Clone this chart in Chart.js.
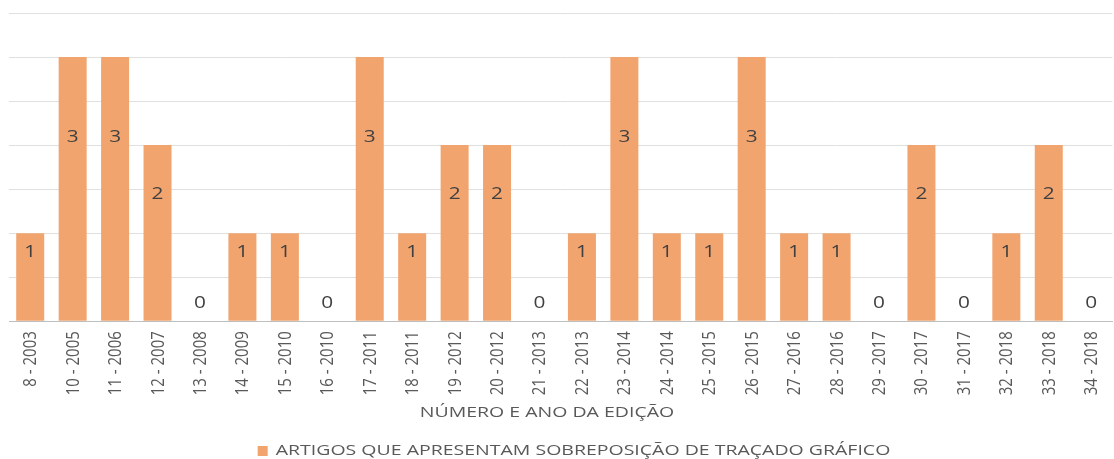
<!DOCTYPE html>
<html><head><meta charset="utf-8">
<script src="https://cdn.jsdelivr.net/npm/chart.js@4"></script>
<style>html,body{margin:0;padding:0;background:#fff}#w{width:1114px;height:459px}</style>
</head><body><div id="w"><canvas id="c"></canvas></div>
<script>
const categories = ["8 - 2003","10 - 2005","11 - 2006","12 - 2007","13 - 2008","14 - 2009","15 - 2010","16 - 2010","17 - 2011","18 - 2011","19 - 2012","20 - 2012","21 - 2013","22 - 2013","23 - 2014","24 - 2014","25 - 2015","26 - 2015","27 - 2016","28 - 2016","29 - 2017","30 - 2017","31 - 2017","32 - 2018","33 - 2018","34 - 2018"];
const values = [1,3,3,2,0,1,1,0,3,1,2,2,0,1,3,1,1,3,1,1,0,2,0,1,2,0];
const seriesName = "ARTIGOS QUE APRESENTAM SOBREPOSIÇÃO DE TRAÇADO GRÁFICO";
const axisTitle = "NÚMERO E ANO DA EDIÇÃO";
const FONT = "'Open Sans'";
const BAR_COLOR = '#F2A46F';
const SX = 1.3; // horizontal text stretch seen in the reference
const labelOffset = [0.205, 0.784, 1.443, 2.085];

function stretchedText(ctx, text, cx, cy, sx, align, rot){
  ctx.save();
  ctx.translate(cx, cy);
  ctx.scale(sx, 1);
  if (rot) ctx.rotate(rot);
  ctx.textAlign = align || 'center';
  ctx.textBaseline = 'middle';
  ctx.fillText(text, 0, 0);
  ctx.restore();
}
const textPlugin = {
  id:'texts',
  afterDatasetsDraw(chart){
    const ctx = chart.ctx, meta = chart.getDatasetMeta(0), y = chart.scales.y, x = chart.scales.x;
    ctx.save();
    ctx.font = "16px " + FONT;
    ctx.fillStyle = "#404040";
    meta.data.forEach((b,i)=>{
      const v = values[i];
      stretchedText(ctx, String(v), b.x, y.getPixelForValue(labelOffset[v]), SX);
    });
    // category tick labels, rotated
    ctx.font = "15px " + FONT;
    ctx.fillStyle = "#595959";
    const top = chart.chartArea.bottom + 10;
    categories.forEach((c,i)=>{
      stretchedText(ctx, c, x.getPixelForValue(i) + 1, top, SX * 0.9, 'right', -Math.PI/2);
    });
    ctx.restore();
  },
  afterDraw(chart){
    const ctx = chart.ctx;
    ctx.save();
    ctx.font = "15px " + FONT;
    ctx.fillStyle = "#595959";
    stretchedText(ctx, axisTitle, 547, 413, SX);
    // legend
    const tw = ctx.measureText(seriesName).width * SX;
    const total = 10 + 8 + tw;
    const x0 = 574 - total/2;
    ctx.fillStyle = BAR_COLOR;
    ctx.fillRect(x0, 446, 10, 10);
    ctx.fillStyle = "#595959";
    stretchedText(ctx, seriesName, x0 + 18, 451, SX, 'left');
    ctx.restore();
  }
};
new Chart(document.getElementById('c'),{
  type:'bar',
  data:{labels:categories,datasets:[{label:seriesName,data:values,backgroundColor:BAR_COLOR,categoryPercentage:1,barPercentage:0.66}]},
  options:{
    responsive:true,maintainAspectRatio:false,animation:false,
    layout:{padding:{left:9,right:0,top:13,bottom:58}},
    plugins:{
      tooltip:{enabled:false},
      legend:{display:false}
    },
    scales:{
      x:{grid:{display:false},border:{color:'#bfbfbf'},
        ticks:{color:'rgba(0,0,0,0)',font:{family:FONT,size:14},minRotation:90,maxRotation:90,autoSkip:false,padding:6}},
      y:{min:0,max:3.5,ticks:{display:false,stepSize:0.5},grid:{color:'#e0e0e0',drawTicks:false},border:{display:false}}
    }
  },
  plugins:[textPlugin]
});
</script></body></html>
